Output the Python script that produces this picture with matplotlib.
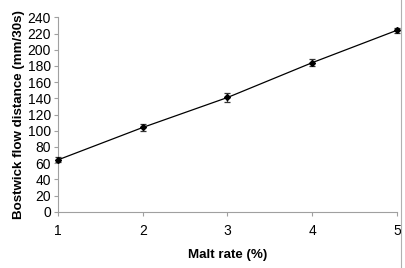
import matplotlib
matplotlib.use("Agg")
import matplotlib.pyplot as plt
from matplotlib.lines import Line2D

malt_rate = [1, 2, 3, 4, 5]
flow = [64, 104, 141, 184, 224]
err = [3, 4, 5, 4, 3]
y_ticks = list(range(0, 241, 20))

plt.rcParams['font.family'] = ['Liberation Sans', 'DejaVu Sans']

fig = plt.figure(figsize=(4.06, 2.68), dpi=100)
ax = fig.add_axes([58/406, 1-211.7/268, (397-58)/406, (211.7-17.3)/268])
ax.errorbar(malt_rate, flow, yerr=err, color='black', marker='D', markersize=3,
            linewidth=0.9, elinewidth=0.9, ecolor='#333333', capsize=2.5, capthick=0.9,
            clip_on=False, zorder=3)
ax.set_xlim(1, 5)
ax.set_ylim(0, 240)
ax.set_yticks(y_ticks)
ax.set_xticks(malt_rate)
for s in ['top', 'right']:
    ax.spines[s].set_visible(False)
for s in ['left', 'bottom']:
    ax.spines[s].set_color('#a0a0a0')
    ax.spines[s].set_linewidth(0.8)
ax.tick_params(axis='both', colors='#a0a0a0', labelcolor='black', labelsize=10,
               length=3, width=0.8)
ax.tick_params(axis='x', pad=6)
ax.tick_params(axis='y', pad=2)
ax.set_xlabel('Malt rate (%)', fontsize=9.6, fontweight='bold', labelpad=8)
ax.set_ylabel('Bostwick flow distance (mm/30s)', fontsize=9.6, fontweight='bold', labelpad=2)
fig.add_artist(Line2D([401/406, 401/406], [0, 1], color='#b0b0b0', linewidth=0.8,
                      transform=fig.transFigure))
fig.savefig('out.png', dpi=100)
